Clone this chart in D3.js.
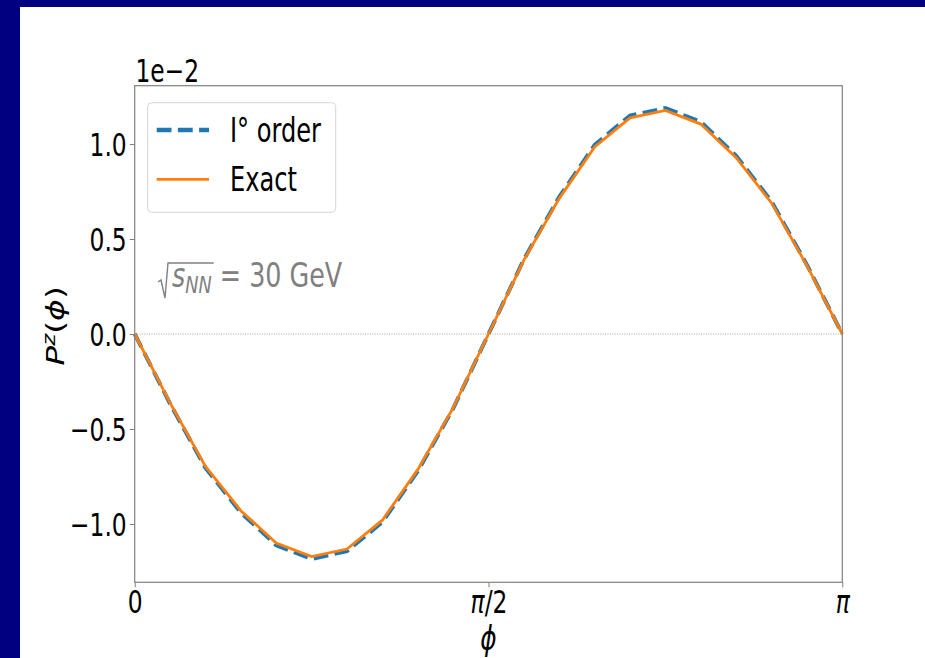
<!DOCTYPE html>
<html>
<head>
<meta charset="utf-8">
<script src="https://cdn.jsdelivr.net/npm/d3@7"></script>
<style>
  html, body { margin: 0; padding: 0; background: #fff; overflow: hidden; }
  svg { display: block; }
  text { font-family: "DejaVu Sans", sans-serif; }
</style>
</head>
<body>
<script>
// phi in units of pi, values of P^z in units of 1e-2
const phiOverPi = [0, 0.05, 0.1, 0.15, 0.2, 0.25, 0.3, 0.35, 0.4, 0.45, 0.5,
    0.55, 0.6, 0.65, 0.7, 0.75, 0.8, 0.85, 0.9, 0.95, 1];
const exactVals = [0, -0.363, -0.697, -0.930, -1.100, -1.172, -1.132, -0.980, -0.714, -0.389, 0,
    0.389, 0.714, 0.985, 1.138, 1.177, 1.105, 0.928, 0.690, 0.360, 0];
const firstOrderVals = [0, -0.367, -0.705, -0.940, -1.112, -1.184, -1.143, -0.990, -0.722, -0.393, 0,
    0.393, 0.722, 0.995, 1.150, 1.189, 1.117, 0.938, 0.698, 0.364, 0];
const xTicks = [0, 0.5, 1];
const xTickLabels = ["0", "π/2", "π"];
const yTicks = [-1.0, -0.5, 0.0, 0.5, 1.0];
const seriesNames = ["I° order", "Exact"];
const seriesColors = ["#1f77b4", "#ff7f0e"];

const width = 925,
    height = 658,
    squeeze = 0.73,
    plotLeft = 134.7, plotRight = 842.3, plotTop = 85.7, plotBottom = 582.3;

const svg = d3.select("body").append("svg")
    .attr("width", width)
    .attr("height", height);

svg.append("rect").attr("width", width).attr("height", height).attr("fill", "#fff");
// slide border: navy strip on the left and top
svg.append("rect").attr("width", 20).attr("height", height).attr("fill", "#000080");
svg.append("rect").attr("width", width).attr("height", 7).attr("fill", "#000080");

const x = d3.scaleLinear().domain([0, 1]).range([plotLeft, plotRight]);
const y = d3.scaleLinear().domain([-1.307, 1.307]).range([plotBottom, plotTop]);

// zero reference line
svg.append("line")
    .attr("x1", x(0)).attr("x2", x(1))
    .attr("y1", y(0)).attr("y2", y(0))
    .attr("stroke", "#999").attr("stroke-width", 0.9)
    .attr("stroke-dasharray", "1,1.4");

const line = d3.line()
    .x((d, i) => x(phiOverPi[i]))
    .y(d => y(d));

svg.append("path")
    .datum(firstOrderVals)
    .attr("d", line)
    .attr("fill", "none")
    .attr("stroke", seriesColors[0])
    .attr("stroke-width", 4)
    .attr("stroke-dasharray", "14.8,6.4");

svg.append("path")
    .datum(exactVals)
    .attr("d", line)
    .attr("fill", "none")
    .attr("stroke", seriesColors[1])
    .attr("stroke-width", 2.8);

// frame
svg.append("rect")
    .attr("x", plotLeft).attr("y", plotTop)
    .attr("width", plotRight - plotLeft).attr("height", plotBottom - plotTop)
    .attr("fill", "none").attr("stroke", "#808080").attr("stroke-width", 1.2);

// axes
const xAxis = svg.append("g")
    .attr("transform", `translate(0,${plotBottom})`)
    .call(d3.axisBottom(x).tickValues(xTicks).tickSize(5).tickFormat((d, i) => xTickLabels[i]));
const yAxis = svg.append("g")
    .attr("transform", `translate(${plotLeft},0)`)
    .call(d3.axisLeft(y).tickValues(yTicks).tickSize(5).tickFormat(d => d3.format(".1f")(d).replace("-", "−")));

[xAxis, yAxis].forEach(g => {
    g.select(".domain").remove();
    g.selectAll(".tick line").attr("stroke", "#808080").attr("stroke-width", 1);
    g.selectAll("text").attr("fill", "#000").attr("font-size", 32);
});
xAxis.selectAll("text")
    .attr("y", null).attr("dy", null)
    .attr("transform", `translate(0,30.4) scale(${squeeze},1)`)
    .each(function (d, i) {
        const t = d3.select(this).text(null);
        if (xTickLabels[i].startsWith("π")) {
            t.append("tspan").attr("font-style", "italic").text("π");
            t.append("tspan").text(xTickLabels[i].slice(1));
        } else t.text(xTickLabels[i]);
    });
yAxis.selectAll("text")
    .attr("x", null).attr("dy", null)
    .attr("transform", `translate(-8,11.5) scale(${squeeze},1)`);

// offset text
svg.append("text")
    .attr("transform", `translate(135.5,81.5) scale(${squeeze},1)`)
    .attr("font-size", 32)
    .text("1e−2");

// axis labels
svg.append("text")
    .attr("transform", `translate(${(plotLeft + plotRight) / 2},650) scale(${squeeze},1)`)
    .attr("text-anchor", "middle")
    .attr("font-size", 34)
    .attr("font-style", "italic")
    .text("ϕ");

const yl = svg.append("text")
    .attr("transform", `translate(64,${y(0) - 8}) scale(${squeeze},1) rotate(-90)`)
    .attr("text-anchor", "middle")
    .attr("font-size", 33);
yl.append("tspan").attr("font-style", "italic").text("P");
yl.append("tspan").attr("font-style", "italic").attr("font-size", 23).attr("dy", -12).text("z");
yl.append("tspan").attr("dy", 12).text("(");
yl.append("tspan").attr("font-style", "italic").text("ϕ");
yl.append("tspan").text(")");

// sqrt(s_NN) annotation
const annX = 172, annY = 287, annScale = 0.77, gray = "#808080";
const ann = svg.append("text")
    .attr("transform", `translate(${annX},${annY}) scale(${annScale},1)`)
    .attr("font-size", 33)
    .attr("fill", gray);
ann.append("tspan").attr("font-style", "italic").text("s");
ann.append("tspan").attr("font-style", "italic").attr("font-size", 23).attr("dy", 6).text("NN");
ann.append("tspan").attr("dy", -6).text(" = 30 GeV");
const nnEnd = annX + ann.node().getEndPositionOfChar(2).x * annScale;
svg.append("path")
    .attr("d", `M158,${annY - 5} L161,${annY - 7} L165,${annY + 11} L168,263 L${nnEnd + 2},263`)
    .attr("fill", "none").attr("stroke", gray).attr("stroke-width", 1.4);

// legend
const legend = svg.append("g");
legend.append("rect")
    .attr("x", 147.7).attr("y", 102.7)
    .attr("width", 188).attr("height", 109.6)
    .attr("rx", 4)
    .attr("fill", "#fff").attr("stroke", "#d6d6d6").attr("stroke-width", 1);
const legY = [130, 179.3];
seriesNames.forEach((name, i) => {
    legend.append("line")
        .attr("x1", 156.7).attr("x2", 209)
        .attr("y1", legY[i]).attr("y2", legY[i])
        .attr("stroke", seriesColors[i])
        .attr("stroke-width", i === 0 ? 4.5 : 2.8)
        .attr("stroke-dasharray", i === 0 ? "14.8,6.4" : null);
    legend.append("text")
        .attr("transform", `translate(230,${legY[i] + 12}) scale(${squeeze},1)`)
        .attr("font-size", 33)
        .text(name);
});
</script>
</body>
</html>
